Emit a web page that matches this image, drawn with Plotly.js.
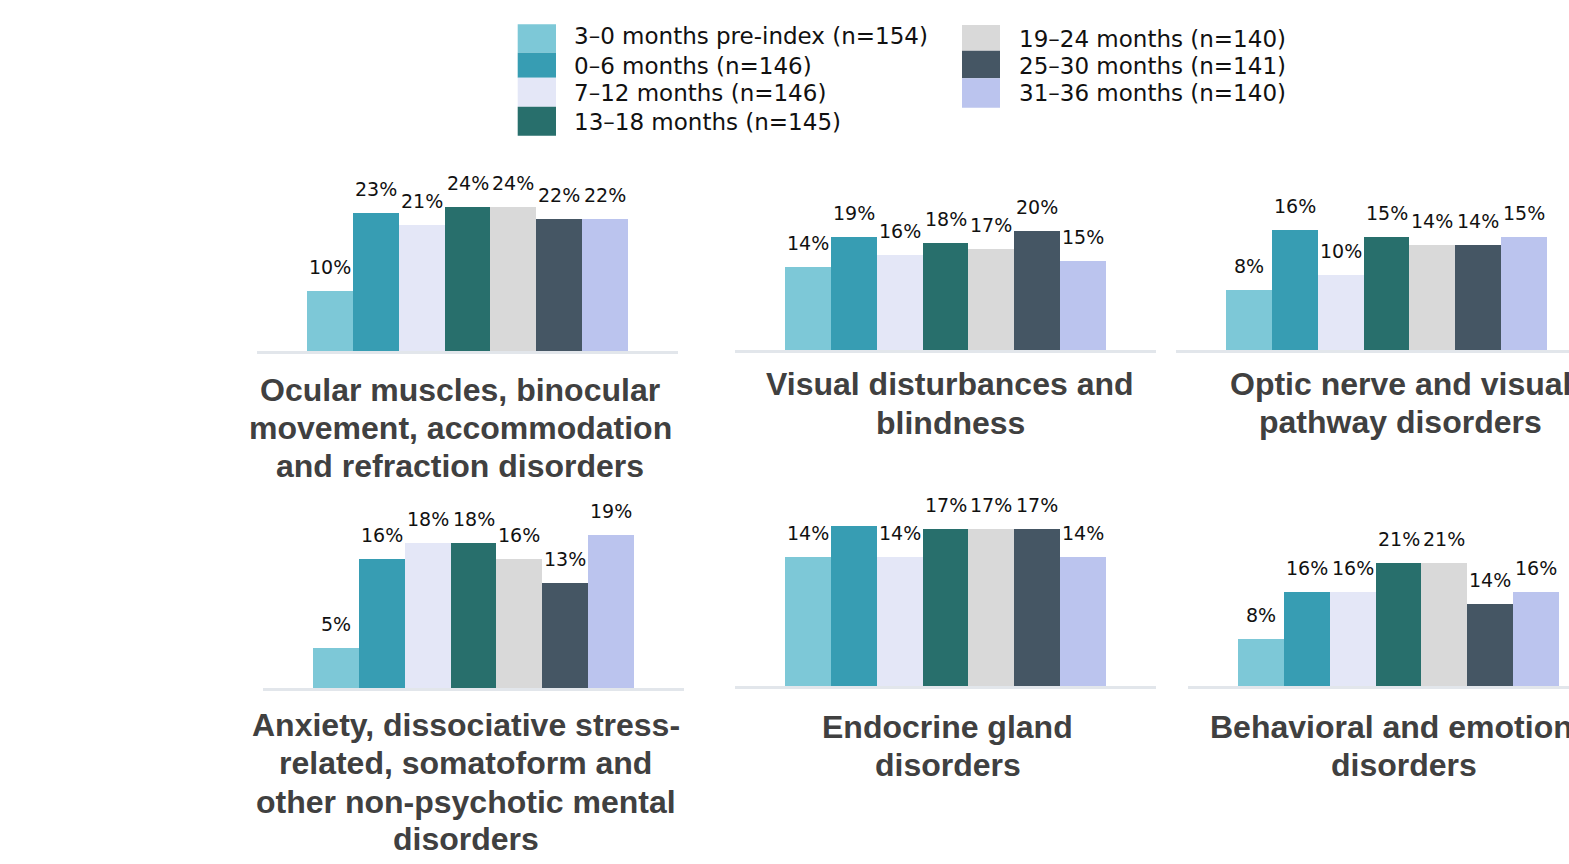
<!DOCTYPE html>
<html>
<head>
<meta charset="utf-8">
<script src="https://cdn.plot.ly/plotly-3.0.1.min.js"></script>
<style>
  html, body { margin: 0; padding: 0; overflow: hidden; background: #ffffff; }
  #chart { width: 1620px; height: 864px; }
</style>
</head>
<body>
<div id="chart"></div>
<script>
// Follow-up periods (legend labels) and their colours
const periods = [
  '3–0 months pre-index (n=154)',
  '0–6 months (n=146)',
  '7–12 months (n=146)',
  '13–18 months (n=145)',
  '19–24 months (n=140)',
  '25–30 months (n=141)',
  '31–36 months (n=140)'
];
const periodColors = ['#7DC8D7', '#379DB3', '#E4E7F7', '#286F6C', '#D9D9D9', '#455664', '#BBC4EE'];

// Share of patients (%) per diagnosis group and period
const ocularValues     = [10, 23, 21, 24, 24, 22, 22];
const visualValues     = [14, 19, 16, 18, 17, 20, 15];
const opticValues      = [8, 16, 10, 15, 14, 14, 15];
const anxietyValues    = [5, 16, 18, 18, 16, 13, 19];
const endocrineValues  = [14, 18, 14, 17, 17, 17, 14];
const behavioralValues = [8, 16, 16, 21, 21, 14, 16];

// Panel titles, one entry per line
const ocularTitle     = ['Ocular muscles, binocular', 'movement, accommodation', 'and refraction disorders'];
const visualTitle     = ['Visual disturbances and', 'blindness'];
const opticTitle      = ['Optic nerve and visual', 'pathway disorders'];
const anxietyTitle    = ['Anxiety, dissociative stress-', 'related, somatoform and', 'other non-psychotic mental', 'disorders'];
const endocrineTitle  = ['Endocrine gland', 'disorders'];
const behavioralTitle = ['Behavioral and emotional', 'disorders'];

// ---- layout (pixel geometry of a 1620 x 864 canvas) ----
const W = 1620, H = 864;
const fx = p => p / W;
const fy = p => 1 - p / H;

const PANEL_W = 421;
const PLOT_H = 160;
const panels = [
  { values: ocularValues,     title: ocularTitle,     left: 257,  base: 351, yMax: 26.7, tx: 460,  ty: [389.6, 427.5, 465.6] },
  { values: visualValues,     title: visualTitle,     left: 735,  base: 350, yMax: 27.0, tx: 950,  ty: [383.9, 422.9] },
  { values: opticValues,      title: opticTitle,      left: 1176, base: 350, yMax: 21.3, tx: 1400.7, ty: [383.9, 422.2] },
  { values: anxietyValues,    title: anxietyTitle,    left: 263,  base: 688, yMax: 19.9, tx: 465.5, ty: [724.5, 762.6, 801.6, 838.6] },
  { values: endocrineValues,  title: endocrineTitle,  left: 735,  base: 686, yMax: 17.3, tx: 948,  ty: [727.2, 764.5] },
  { values: behavioralValues, title: behavioralTitle, left: 1188, base: 686, yMax: 27.35, tx: 1404, ty: [727.2, 764.5] }
];

const LABEL_FONT = { family: 'DejaVu Sans, Liberation Sans, Arial, sans-serif', size: 19, color: '#111111' };
const LEGEND_FONT = { family: 'DejaVu Sans, Liberation Sans, Arial, sans-serif', size: 23, color: '#111111' };
const TITLE_FONT = { family: 'Liberation Sans, Arial, sans-serif', size: 32, color: '#404040', weight: 700 };

const traces = [];
const annotations = [];
const shapes = [];
const layout = {
  width: W,
  height: H,
  margin: { l: 0, r: 0, t: 0, b: 0, pad: 0 },
  paper_bgcolor: '#ffffff',
  plot_bgcolor: 'rgba(0,0,0,0)',
  bargap: 0,
  showlegend: false
};

panels.forEach((p, i) => {
  const k = i + 1;
  const xa = 'x' + k, ya = 'y' + k;
  const xKey = k === 1 ? 'xaxis' : 'xaxis' + k;
  const yKey = k === 1 ? 'yaxis' : 'yaxis' + k;

  layout[xKey] = {
    domain: [fx(p.left), fx(p.left + PANEL_W)],
    anchor: ya,
    type: 'category',
    range: [-1.59, 7.59],
    showline: true,
    linecolor: '#E2E6EB',
    linewidth: 3,
    layer: 'below traces',
    showticklabels: false,
    ticks: '',
    showgrid: false,
    zeroline: false,
    fixedrange: true
  };
  layout[yKey] = {
    domain: [fy(p.base), fy(p.base - PLOT_H)],
    anchor: xa,
    range: [0, p.yMax],
    visible: false,
    showgrid: false,
    zeroline: false,
    fixedrange: true
  };

  traces.push({
    type: 'bar',
    x: periods,
    y: p.values,
    xaxis: xa,
    yaxis: ya,
    marker: { color: periodColors, line: { width: 0 } },
    hoverinfo: 'skip',
    showlegend: false
  });

  // value labels above each bar
  p.values.forEach((v, j) => {
    annotations.push({
      xref: xa, yref: ya,
      x: periods[j], y: v,
      text: v + '%',
      showarrow: false,
      xanchor: 'center', yanchor: 'bottom',
      yshift: 11,
      font: LABEL_FONT
    });
  });

  // panel title lines
  p.title.forEach((line, j) => {
    annotations.push({
      xref: 'paper', yref: 'paper',
      x: fx(p.tx), y: fy(p.ty[j]),
      text: line,
      showarrow: false,
      xanchor: 'center', yanchor: 'middle',
      font: TITLE_FONT
    });
  });
});

// legend: two columns of stacked colour blocks with labels
const legendCols = [
  { items: [0, 1, 2, 3], x0: 517.7, x1: 556, textX: 571.5,
    edges: [24.3, 52.7, 77.7, 106.7, 135.7], textY: [36.3, 66.5, 93, 121.5] },
  { items: [4, 5, 6], x0: 962, x1: 1000, textX: 1017,
    edges: [25, 50.7, 78.3, 107.7], textY: [39, 66.2, 93.5] }
];
legendCols.forEach(col => {
  col.items.forEach((idx, r) => {
    shapes.push({
      type: 'rect', xref: 'paper', yref: 'paper',
      x0: fx(col.x0), x1: fx(col.x1),
      y0: fy(col.edges[r + 1]), y1: fy(col.edges[r]),
      fillcolor: periodColors[idx],
      line: { width: 0 },
      layer: 'above'
    });
    annotations.push({
      xref: 'paper', yref: 'paper',
      x: fx(col.textX), y: fy(col.textY[r]),
      text: periods[idx],
      showarrow: false,
      xanchor: 'left', yanchor: 'middle',
      font: LEGEND_FONT
    });
  });
});

layout.annotations = annotations;
layout.shapes = shapes;

Plotly.newPlot('chart', traces, layout, { staticPlot: true, displayModeBar: false, responsive: false });
</script>
</body>
</html>
